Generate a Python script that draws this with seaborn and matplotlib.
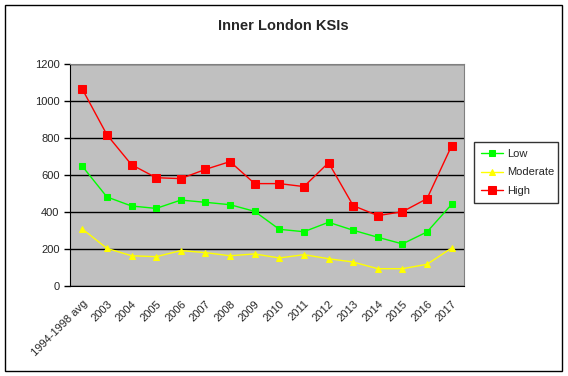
import pandas as pd
import seaborn as sns
import matplotlib.pyplot as plt
from matplotlib.patches import Rectangle

years = ["1994-1998 avg", "2003", "2004", "2005", "2006", "2007", "2008", "2009",
         "2010", "2011", "2012", "2013", "2014", "2015", "2016", "2017"]
low = [649, 483, 434, 421, 466, 454, 441, 405, 308, 295, 346, 303, 265, 229, 294, 443]
moderate = [310, 205, 165, 160, 193, 182, 165, 175, 153, 171, 149, 131, 95, 95, 119, 207]
high = [1066, 819, 657, 587, 582, 632, 674, 555, 555, 539, 668, 436, 382, 403, 474, 760]

df = pd.DataFrame({"year": years, "Low": low, "Moderate": moderate, "High": high})
long_df = df.melt(id_vars="year", var_name="level", value_name="ksi")
long_df["pos"] = long_df["year"].map({y: i for i, y in enumerate(years)})

sns.set_style("white")
plt.rcParams["font.family"] = ["Liberation Sans", "DejaVu Sans"]

fig = plt.figure(figsize=(5.68, 3.76), dpi=100)
ax = fig.add_axes([0.1232, 0.2386, 0.6937, 0.5904])

palette = {"Low": "#00FF00", "Moderate": "#FFFF00", "High": "#FF0000"}
markers = {"Low": "s", "Moderate": "^", "High": "s"}
sizes = {"Low": 4, "Moderate": 5, "High": 6}

for level in ["Low", "Moderate", "High"]:
    sub = long_df[long_df["level"] == level]
    sns.lineplot(data=sub, x="pos", y="ksi", ax=ax, color=palette[level],
                 marker=markers[level], markersize=sizes[level],
                 markeredgecolor=palette[level], linewidth=1, label=level)

ax.set_facecolor("#C0C0C0")
ax.set_xlim(-0.5, len(years) - 0.5)
ax.set_ylim(0, 1200)
ax.set_yticks(range(0, 1201, 200))
ax.set_yticklabels([str(v) for v in range(0, 1201, 200)], fontsize=8)
ax.set_xticks(range(len(years)))
ax.set_xticklabels(years, rotation=45, ha="right", rotation_mode="anchor", fontsize=8)
ax.set_xticks([i - 0.5 for i in range(len(years) + 1)], minor=True)
ax.tick_params(axis="x", which="major", length=0, pad=9)
ax.tick_params(axis="x", which="minor", length=4, width=1, color="black", direction="out")
ax.tick_params(axis="y", length=4, width=1, color="black", direction="out", left=True)
ax.grid(axis="y", color="black", linewidth=1)
ax.set_axisbelow(True)
for side in ["top", "right"]:
    ax.spines[side].set_color("#808080")
ax.spines["left"].set_color("black")
ax.spines["bottom"].set_color("black")
ax.set_xlabel("")
ax.set_ylabel("")

leg = ax.legend(loc="lower left", bbox_to_anchor=(0.8345, 0.46, 0.148, 0.16),
                bbox_transform=fig.transFigure, mode="expand", fontsize=8,
                frameon=True, fancybox=False, edgecolor="black", facecolor="white",
                handlelength=2.0, handletextpad=0.4, borderpad=0.6,
                borderaxespad=0, labelspacing=0.8)
leg.get_frame().set_linewidth(1)

fig.text(0.498, 0.93, "Inner London KSIs", ha="center", va="center",
         fontsize=10.5, fontweight="bold")
fig.patches.append(Rectangle((5 / 568, 5 / 376), 557 / 568, 366 / 376,
                             transform=fig.transFigure, fill=False,
                             edgecolor="black", linewidth=1))

fig.savefig("out.png", dpi=100)
